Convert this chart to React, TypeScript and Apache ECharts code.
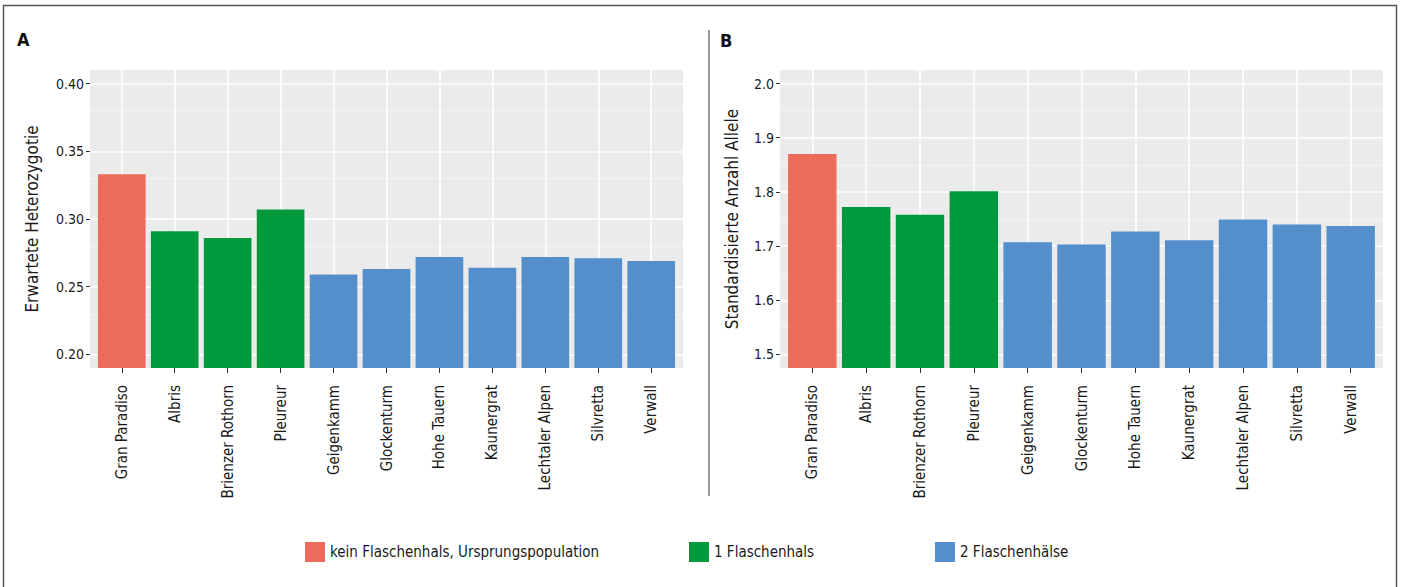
import React, { useEffect, useRef } from "react";
import * as echarts from "echarts";

const categories = [
  "Gran Paradiso",
  "Albris",
  "Brienzer Rothorn",
  "Pleureur",
  "Geigenkamm",
  "Glockenturm",
  "Hohe Tauern",
  "Kaunergrat",
  "Lechtaler Alpen",
  "Silvretta",
  "Verwall",
];
const groupOfCategory = [0, 1, 1, 1, 2, 2, 2, 2, 2, 2, 2];
const groupNames = [
  "kein Flaschenhals, Ursprungspopulation",
  "1 Flaschenhals",
  "2 Flaschenhälse",
];
const heterozygosity = [0.333, 0.291, 0.286, 0.307, 0.259, 0.263, 0.272, 0.264, 0.272, 0.271, 0.269];
const alleles = [1.87, 1.772, 1.758, 1.801, 1.707, 1.703, 1.727, 1.711, 1.749, 1.74, 1.737];

const ticksA = [0.2, 0.25, 0.3, 0.35, 0.4];
const minorTicksA = [0.225, 0.275, 0.325, 0.375];
const ticksB = [1.5, 1.6, 1.7, 1.8, 1.9, 2.0];
const minorTicksB = [1.55, 1.65, 1.75, 1.85, 1.95];
const rangeA = [0.19, 0.41];
const rangeB = [1.475, 2.025];

const colors = ["#EC6B5D", "#009A3D", "#558FCB"];
const FONT = "'Liberation Sans Narrow', 'DejaVu Sans Condensed', 'Liberation Sans', sans-serif";
const TEXT = "#1a1a1a";

export default function App() {
  const ref = useRef<HTMLDivElement>(null);
  useEffect(() => {
    document.body.style.margin = "0";
    const chart = echarts.init(ref.current!, null, { renderer: "svg" });
    const W = 1403;

    const panels = [
      { values: heterozygosity, ticks: ticksA, minor: minorTicksA, range: rangeA, digits: 2, name: "Erwartete Heterozygotie", x0: 90, x1: 683, nameGap: 50 },
      { values: alleles, ticks: ticksB, minor: minorTicksB, range: rangeB, digits: 1, name: "Standardisierte Anzahl Allele", x0: 780, x1: 1383, nameGap: 40 },
    ];
    const TOP = 70;
    const BOTTOM = 587 - 368;

    const grid: any[] = [];
    const xAxis: any[] = [];
    const yAxis: any[] = [];
    const series: any[] = [];

    panels.forEach((p, pi) => {
      // ggplot discrete expansion: 0.6 units each side -> plot spans 11.2 units
      const unit = (p.x1 - p.x0) / (categories.length + 0.2);
      const pad = unit * 0.1;
      const bgIdx = grid.length;
      grid.push({ left: p.x0, right: W - p.x1, top: TOP, bottom: BOTTOM, show: true, backgroundColor: "#EBEBEB", borderWidth: 0 });
      const dIdx = grid.length;
      grid.push({ left: p.x0 + pad, right: W - p.x1 + pad, top: TOP, bottom: BOTTOM, show: false });

      // background grid axes (y axis carries the labels)
      xAxis.push({ type: "value", gridIndex: bgIdx, min: 0, max: 1, show: false });
      yAxis.push({
        type: "value",
        gridIndex: bgIdx,
        min: p.range[0],
        max: p.range[1],
        name: p.name,
        nameLocation: "middle",
        nameGap: p.nameGap,
        nameRotate: 90,
        nameTextStyle: { fontSize: 17, fontFamily: FONT, color: TEXT },
        axisLine: { show: false },
        axisTick: { show: true, length: 4, customValues: p.ticks, lineStyle: { color: "#333", width: 1 } },
        axisLabel: {
          customValues: p.ticks,
          margin: 6,
          fontSize: 14,
          fontFamily: FONT,
          color: TEXT,
          formatter: (v: number) => Number(v).toFixed(p.digits),
        },
        splitLine: { show: false },
      });
      const bgX = xAxis.length - 1;
      const bgY = yAxis.length - 1;

      // data grid axes
      xAxis.push({
        type: "category",
        gridIndex: dIdx,
        data: categories,
        boundaryGap: true,
        axisLine: { show: false },
        axisTick: { show: true, alignWithLabel: true, length: 5, lineStyle: { color: "#333", width: 1 } },
        axisLabel: { rotate: 90, margin: 17, fontSize: 15, fontFamily: FONT, color: TEXT, interval: 0 },
        splitLine: { show: false },
      });
      yAxis.push({ type: "value", gridIndex: dIdx, min: p.range[0], max: p.range[1], show: false, splitLine: { show: false } });
      const dX = xAxis.length - 1;
      const dY = yAxis.length - 1;

      series.push({
        type: "line",
        xAxisIndex: bgX,
        yAxisIndex: bgY,
        data: [],
        silent: true,
        markLine: {
          silent: true,
          symbol: "none",
          z: 1,
          label: { show: false },
          animation: false,
          data: [
            ...p.minor.map((v) => ({ yAxis: v, lineStyle: { color: "#F7F7F7", width: 0.8, type: "solid" } })),
            ...p.ticks.map((v) => ({ yAxis: v, lineStyle: { color: "#FFFFFF", width: 1.6, type: "solid" } })),
          ],
        },
      });

      groupNames.forEach((gName, g) => {
        const s: any = {
          type: "bar",
          name: gName,
          xAxisIndex: dX,
          yAxisIndex: dY,
          data: p.values.map((v, i) => (groupOfCategory[i] === g ? v : "-")),
          barWidth: "90%",
          barGap: "-100%",
          itemStyle: { color: colors[g] },
          z: 2,
        };
        if (g === 0) {
          s.markLine = {
            silent: true,
            symbol: "none",
            z: 1,
            label: { show: false },
            animation: false,
            data: categories.map((c) => ({ xAxis: c, lineStyle: { color: "#FFFFFF", width: 1.6, type: "solid" } })),
          };
        }
        series.push(s);
      });
    });

    const legendLeft = [305, 689, 935];
    const legend = groupNames.map((n, g) => ({
      data: [n],
      left: legendLeft[g],
      top: 542,
      itemWidth: 20,
      itemHeight: 20,
      icon: "rect",
      selectedMode: false,
      padding: 0,
      textStyle: { fontSize: 15, fontFamily: FONT, color: TEXT },
    }));

    chart.setOption({
      animation: false,
      backgroundColor: "#ffffff",
      grid,
      xAxis,
      yAxis,
      legend,
      series,
      graphic: [
        { type: "rect", shape: { x: 3.5, y: 5.5, width: 1393, height: 620 }, style: { fill: "none", stroke: "#555", lineWidth: 1.5 }, silent: true },
        { type: "line", shape: { x1: 709, y1: 30, x2: 709, y2: 496 }, style: { stroke: "#777", lineWidth: 1.5 }, silent: true },
        { type: "text", left: 17, top: 30, style: { text: "A", fontSize: 18, fontWeight: "bold", fontFamily: FONT, fill: "#111" } },
        { type: "text", left: 720, top: 31, style: { text: "B", fontSize: 18, fontWeight: "bold", fontFamily: FONT, fill: "#111" } },
      ],
    });
    return () => chart.dispose();
  }, []);
  return <div ref={ref} style={{ width: 1403, height: 587 }} />;
}
